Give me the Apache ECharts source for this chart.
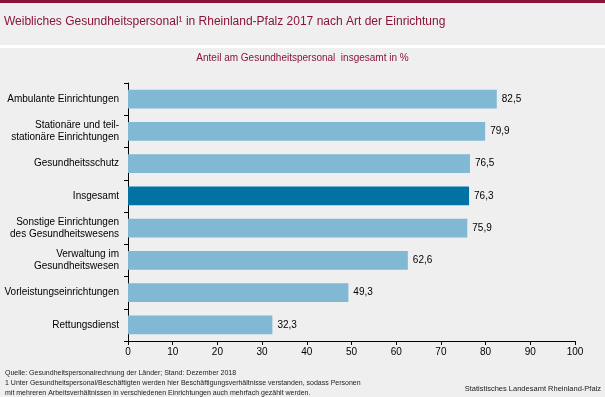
<!DOCTYPE html>
<html lang="de">
<head>
    <meta charset="UTF-8">
    <title>Weibliches Gesundheitspersonal</title>
    <style>
        body {
            margin: 0;
        }
        #chart {
            width: 605px;
            height: 397px;
        }
    </style>
</head>
<body>
    <div id="chart"></div>
    <script src="https://cdn.jsdelivr.net/npm/echarts@6/dist/echarts.min.js"></script>
    <script>
        const categories = [
            'Ambulante Einrichtungen',
            'Stationäre und teil-\nstationäre Einrichtungen',
            'Gesundheitsschutz',
            'Insgesamt',
            'Sonstige Einrichtungen\ndes Gesundheitswesens',
            'Verwaltung im\nGesundheitswesen',
            'Vorleistungseinrichtungen',
            'Rettungsdienst'
        ];
        const values = [82.5, 79.9, 76.5, 76.3, 75.9, 62.6, 49.3, 32.3];
        const highlight = 'Insgesamt';

        const font = 'Liberation Sans, Arial, sans-serif';
        const red = '#8a1538';

        const chart = echarts.init(document.getElementById('chart'));
        chart.setOption({
            backgroundColor: '#eeefee',
            textStyle: { fontFamily: font },
            graphic: [
                { type: 'rect', shape: { x: 0, y: 0, width: 605, height: 3 }, style: { fill: red } },
                { type: 'rect', shape: { x: 0, y: 45, width: 605, height: 3 }, style: { fill: '#ffffff' } },
                {
                    type: 'text', left: 4, top: 16,
                    style: { text: 'Weibliches Gesundheitspersonal¹ in Rheinland-Pfalz 2017 nach Art der Einrichtung', fill: red, font: '12px ' + font }
                },
                {
                    type: 'text', left: 'center', top: 53,
                    style: { text: 'Anteil am Gesundheitspersonal  insgesamt in %', fill: red, font: '10px ' + font }
                },
                {
                    type: 'text', left: 5, top: 368,
                    style: {
                        text: 'Quelle: Gesundheitspersonalrechnung der Länder; Stand: Dezember 2018\n1 Unter Gesundheitspersonal/Beschäftigten werden hier Beschäftigungsverhältnisse verstanden, sodass Personen\nmit mehreren Arbeitsverhältnissen in verschiedenen Einrichtungen auch mehrfach gezählt werden.',
                        fill: '#222', font: '7px ' + font, lineHeight: 10
                    }
                },
                {
                    type: 'text', right: 4, top: 385,
                    style: { text: 'Statistisches Landesamt Rheinland-Pfalz', fill: '#222', font: '7.5px ' + font }
                }
            ],
            grid: { left: 128, right: 30, top: 83, bottom: 56 },
            xAxis: {
                type: 'value',
                min: 0,
                max: 100,
                interval: 10,
                axisLine: { show: true, lineStyle: { color: '#000', width: 1 } },
                axisTick: { show: true, length: 4, lineStyle: { color: '#000' } },
                axisLabel: { color: '#000', fontSize: 10, margin: 6 },
                splitLine: { show: false }
            },
            yAxis: {
                type: 'category',
                data: categories,
                inverse: true,
                axisLine: { show: true, lineStyle: { color: '#000', width: 1 } },
                axisTick: { show: true, length: 4, lineStyle: { color: '#000' } },
                axisLabel: { color: '#000', fontSize: 10, margin: 9, lineHeight: 12 }
            },
            series: [
                {
                    type: 'bar',
                    barCategoryGap: '42%',
                    data: values.map((v, i) => ({
                        value: v,
                        itemStyle: { color: categories[i] === highlight ? '#0072a3' : '#81b8d4' }
                    })),
                    label: {
                        show: true,
                        position: 'right',
                        distance: 5,
                        color: '#000',
                        fontSize: 10,
                        formatter: p => p.value.toFixed(1).replace('.', ',')
                    },
                    animation: false
                }
            ]
        });
    </script>
</body>
</html>
